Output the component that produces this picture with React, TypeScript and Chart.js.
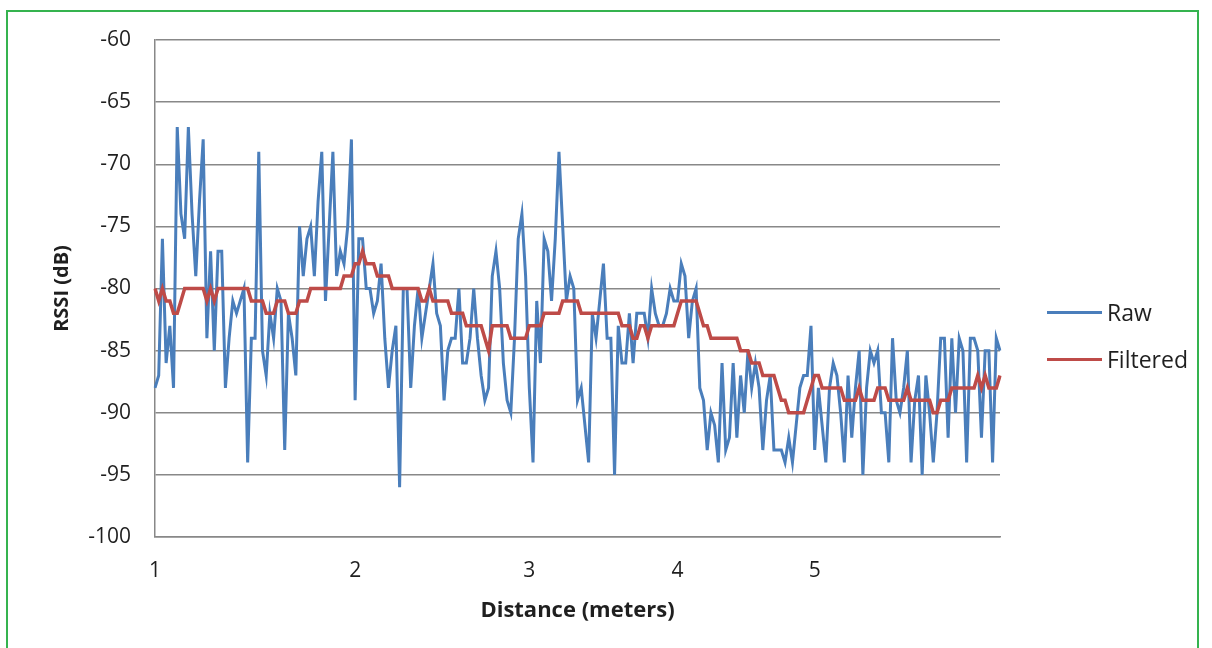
import React, { useEffect, useRef } from "react";
import { Chart, registerables } from "chart.js";

Chart.register(...registerables);

// Raw RSSI readings (dB), one per sample
const rawValues = [
  -88, -87, -76, -86, -83, -88, -67, -74, -76, -67,
  -74, -79, -73, -68, -84, -77, -85, -77, -77, -88,
  -84, -81, -82, -81, -80, -94, -84, -84, -69, -85,
  -87, -82, -84, -80, -81, -93, -82, -84, -87, -75,
  -79, -76, -75, -79, -73, -69, -81, -75, -69, -79,
  -77, -78, -75, -68, -89, -76, -76, -80, -80, -82,
  -81, -78, -84, -88, -85, -83, -96, -80, -80, -88,
  -83, -80, -84, -82, -80, -78, -82, -83, -89, -85,
  -84, -84, -80, -86, -86, -84, -80, -84, -87, -89,
  -88, -79, -77, -80, -86, -89, -90, -84, -76, -74,
  -79, -88, -94, -81, -86, -76, -77, -81, -76, -69,
  -75, -81, -79, -80, -89, -88, -91, -94, -82, -84,
  -81, -78, -84, -84, -95, -83, -86, -86, -82, -86,
  -82, -82, -82, -84, -80, -82, -83, -83, -82, -80,
  -81, -81, -78, -79, -84, -81, -80, -88, -89, -93,
  -90, -91, -94, -86, -93, -92, -86, -92, -87, -90,
  -85, -88, -86, -88, -93, -89, -87, -93, -93, -93,
  -94, -92, -94, -91, -88, -87, -87, -83, -93, -88,
  -91, -94, -88, -86, -87, -90, -94, -87, -92, -88,
  -85, -95, -88, -85, -86, -85, -90, -90, -94, -84,
  -89, -90, -88, -85, -94, -89, -87, -95, -87, -90,
  -94, -90, -84, -84, -92, -84, -90, -84, -85, -94,
  -84, -84, -85, -92, -85, -85, -94, -84, -85,
];

// Filtered RSSI (dB)
const filteredValues = [
  -80, -81, -80, -81, -81, -82, -82, -81, -80, -80,
  -80, -80, -80, -80, -81, -80, -81, -80, -80, -80,
  -80, -80, -80, -80, -80, -80, -81, -81, -81, -81,
  -82, -82, -82, -81, -81, -81, -82, -82, -82, -81,
  -81, -81, -80, -80, -80, -80, -80, -80, -80, -80,
  -80, -79, -79, -79, -78, -78, -77, -78, -78, -78,
  -79, -79, -79, -79, -80, -80, -80, -80, -80, -80,
  -80, -80, -81, -81, -80, -81, -81, -81, -81, -81,
  -82, -82, -82, -82, -83, -83, -83, -83, -83, -84,
  -85, -83, -83, -83, -83, -83, -84, -84, -84, -84,
  -84, -83, -83, -83, -83, -82, -82, -82, -82, -82,
  -81, -81, -81, -81, -81, -82, -82, -82, -82, -82,
  -82, -82, -82, -82, -82, -82, -83, -83, -83, -84,
  -84, -83, -83, -84, -83, -83, -83, -83, -83, -83,
  -83, -82, -81, -81, -81, -81, -81, -82, -83, -83,
  -84, -84, -84, -84, -84, -84, -84, -84, -85, -85,
  -85, -86, -86, -86, -87, -87, -87, -87, -88, -89,
  -89, -90, -90, -90, -90, -90, -89, -88, -87, -87,
  -88, -88, -88, -88, -88, -88, -89, -89, -89, -89,
  -88, -89, -89, -89, -89, -88, -88, -88, -89, -89,
  -89, -89, -89, -88, -89, -89, -89, -89, -89, -89,
  -90, -90, -89, -89, -89, -88, -88, -88, -88, -88,
  -88, -88, -87, -88, -87, -88, -88, -88, -87,
];

// Distance tick labels and the sample index each one sits on
const tickIndices = [0, 54, 101, 141, 178];
const tickTexts = ["1", "2", "3", "4", "5"];

const seriesNames = ["Raw", "Filtered"];
const seriesColors = ["#4a7ebb", "#be4b48"];

const FONT = "'Open Sans', 'Noto Sans', sans-serif";
const GRID = "#888888";
const TEXT = "#1f1f1f";

export default function App() {
  const ref = useRef<HTMLCanvasElement>(null);

  useEffect(() => {
    const labels = rawValues.map((_, i) => {
      const k = tickIndices.indexOf(i);
      return k >= 0 ? tickTexts[k] : "";
    });
    const chart = new Chart(ref.current!, {
      type: "line",
      data: {
        labels,
        datasets: [
          {
            label: seriesNames[0],
            data: rawValues,
            borderColor: seriesColors[0],
            backgroundColor: seriesColors[0],
            borderWidth: 3,
            pointRadius: 0,
            tension: 0,
            order: 2,
          },
          {
            label: seriesNames[1],
            data: filteredValues,
            borderColor: seriesColors[1],
            backgroundColor: seriesColors[1],
            borderWidth: 3.5,
            pointRadius: 0,
            tension: 0,
            order: 1,
          },
        ],
      },
      options: {
        responsive: false,
        animation: false,
        layout: { padding: { left: 0, top: 40, right: 212, bottom: 0 } },
        plugins: { legend: { display: false }, tooltip: { enabled: false } },
        scales: {
          x: {
            grid: { display: false, drawTicks: false },
            border: { display: true, color: GRID, width: 1.5 },
            ticks: {
              autoSkip: false,
              maxRotation: 0,
              minRotation: 0,
              padding: 21,
              color: TEXT,
              font: { family: FONT, size: 21 },
              callback: (_v: any, i: number) => labels[i],
            },
            title: {
              display: true,
              text: "Distance (meters)",
              color: TEXT,
              font: { family: FONT, size: 22, weight: "bold" },
              padding: { top: 0, bottom: 24 },
            },
            afterFit: (s: any) => {
              s.height = 111;
            },
          },
          y: {
            min: -100,
            max: -60,
            grid: { color: GRID, lineWidth: 1.5, drawTicks: false },
            border: { display: true, color: GRID, width: 1.5 },
            ticks: {
              stepSize: 5,
              padding: 24,
              color: TEXT,
              font: { family: FONT, size: 21 },
            },
            title: {
              display: true,
              text: "RSSI (dB)",
              color: TEXT,
              font: { family: FONT, size: 20, weight: "bold" },
              padding: { top: 50, bottom: 0 },
            },
            afterFit: (s: any) => {
              s.width = 155;
            },
          },
        },
      },
    } as any);
    return () => chart.destroy();
  }, []);

  return (
    <div style={{ position: "fixed", left: 0, top: 0, width: 1212, height: 648, background: "#fff", overflow: "hidden" }}>
      <canvas ref={ref} width={1212} height={648} style={{ display: "block", position: "absolute", left: 0, top: 0 }} />
      <div
        style={{
          position: "absolute",
          left: 6,
          top: 10,
          width: 1193,
          height: 700,
          border: "2.5px solid #35b34f",
          boxSizing: "border-box",
          pointerEvents: "none",
        }}
      />
      {seriesNames.map((name, k) => (
        <div
          key={name}
          style={{
            position: "absolute",
            left: 1047,
            top: 312 + k * 47 - 16,
            height: 32,
            display: "flex",
            alignItems: "center",
            fontFamily: FONT,
            fontSize: 23,
            color: TEXT,
          }}
        >
          <span style={{ display: "inline-block", width: 55, height: 3, background: seriesColors[k], marginRight: 5 }} />
          <span>{name}</span>
        </div>
      ))}
    </div>
  );
}
